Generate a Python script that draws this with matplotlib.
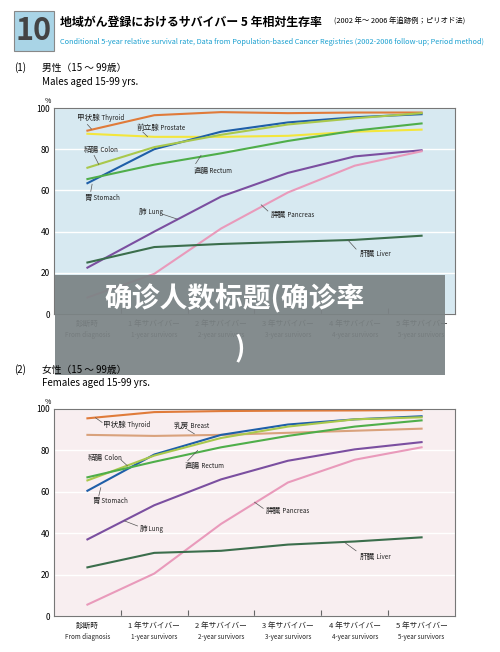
import matplotlib.pyplot as plt
from matplotlib.patches import Rectangle

plt.rcParams['font.family'] = ['Noto Sans CJK JP', 'DejaVu Sans']

cats_jp = ["診断時", "1 年サバイバー", "2 年サバイバー", "3 年サバイバー", "4 年サバイバー", "5 年サバイバー"]
cats_en = ["From diagnosis", "1-year survivors", "2-year survivors", "3-year survivors", "4-year survivors", "5-year survivors"]

male_thyroid = [89, 96.5, 98, 97.5, 97.8, 97.8]
male_prostate = [87.5, 86, 86, 86.5, 88.5, 89.5]
male_stomach = [63.5, 80, 88.5, 93, 95.5, 97]
male_colon = [71, 81, 87, 92, 95, 97.5]
male_rectum = [65.5, 72.5, 78, 84, 89, 92.5]
male_lung = [22.5, 40, 57, 68.5, 76.5, 79.5]
male_pancreas = [8, 19.5, 41.5, 59, 72, 79]
male_liver = [25, 32.5, 34, 35, 36, 38]

fem_thyroid = [95.5, 98.5, 99, 99.2, 99.3, 99.5]
fem_breast = [87.5, 87, 87.5, 88.5, 89.5, 90.5]
fem_stomach = [60.5, 78, 87.5, 92.5, 95, 96.5]
fem_colon = [65.5, 77.5, 86, 91.5, 95, 96]
fem_rectum = [67, 74.5, 81.5, 87, 91.5, 94.5]
fem_lung = [37, 53.5, 66, 75, 80.5, 84]
fem_pancreas = [5.5, 20.5, 44.5, 64.5, 75.5, 81.5]
fem_liver = [23.5, 30.5, 31.5, 34.5, 36, 38]

C = dict(thy='#e07b3a', pro='#f3e63c', sto='#1f5fa8', col='#a9c84c', rec='#4fae4a',
         lun='#7b4fa0', pan='#e99abb', liv='#3b6e4c', bre='#d9a27c')

# (jp, en, values, colour, text position, leader start, leader end)
male = [
    ("甲状腺", "Thyroid", male_thyroid, C['thy'], (-0.16, 95.3), (0.0, 92), (0.06, 89.8)),
    ("前立腺", "Prostate", male_prostate, C['pro'], (0.73, 90.5), (0.83, 88.3), (0.9, 86.1)),
    ("胃", "Stomach", male_stomach, C['sto'], (-0.05, 56.5), (0.05, 59.5), (0.07, 63)),
    ("結腸", "Colon", male_colon, C['col'], (-0.06, 79.5), (0.1, 77), (0.17, 72.6)),
    ("直腸", "Rectum", male_rectum, C['rec'], (1.58, 69.6), (1.62, 73), (1.7, 77)),
    ("肺", "Lung", male_lung, C['lun'], (0.77, 49.3), (1.12, 48.5), (1.35, 46)),
    ("膵臓", "Pancreas", male_pancreas, C['pan'], (2.74, 48), (2.7, 50), (2.6, 53)),
    ("肝臓", "Liver", male_liver, C['liv'], (4.07, 29), (4.02, 31.5), (3.9, 35.8)),
]
female = [
    ("甲状腺", "Thyroid", fem_thyroid, C['thy'], (0.24, 92.4), (0.22, 93.5), (0.12, 95.8)),
    ("乳房", "Breast", fem_breast, C['bre'], (1.29, 92), (1.5, 90), (1.6, 88)),
    ("胃", "Stomach", fem_stomach, C['sto'], (0.07, 55.6), (0.17, 58), (0.2, 62)),
    ("結腸", "Colon", fem_colon, C['col'], (0.0, 76.3), (0.5, 75.5), (0.6, 72.5)),
    ("直腸", "Rectum", fem_rectum, C['rec'], (1.45, 72.3), (1.5, 75), (1.65, 80)),
    ("肺", "Lung", fem_lung, C['lun'], (0.78, 42.2), (0.75, 43.5), (0.55, 46)),
    ("膵臓", "Pancreas", fem_pancreas, C['pan'], (2.67, 50.5), (2.63, 52), (2.5, 55)),
    ("肝臓", "Liver", fem_liver, C['liv'], (4.07, 28.7), (4.02, 31.5), (3.85, 35.5)),
]

W, H = 500, 652
fig = plt.figure(figsize=(5, 6.52), dpi=100)


def fx(p):
    return p / W


def fy(p):
    return 1 - p / H


def draw(rect, series, bg):
    ax = fig.add_axes(rect)
    ax.set_facecolor(bg)
    ax.set_xlim(-0.5, 5.5)
    ax.set_ylim(0, 100)
    ax.set_yticks([0, 20, 40, 60, 80, 100])
    ax.tick_params(axis='y', length=0, labelsize=6, pad=3)
    ax.grid(axis='y', color='white', lw=1)
    ax.set_axisbelow(True)
    ax.set_xticks([0.5, 1.5, 2.5, 3.5, 4.5])
    ax.set_xticklabels([])
    ax.tick_params(axis='x', direction='in', length=4, color='#666666')
    for s in ax.spines.values():
        s.set_color('#777777')
        s.set_linewidth(0.8)
    xs = range(len(cats_jp))
    for jp, en, vals, col, tpos, ls, le in series:
        ax.plot(xs, vals, color=col, lw=1.5)
        t = ax.text(tpos[0], tpos[1], jp, fontsize=5.5, va='center', color='#222222')
        ax.annotate(" " + en, xy=(1, 0.5), xycoords=t, va='center', fontsize=4.5, color='#222222')
        ax.plot([ls[0], le[0]], [ls[1], le[1]], color='#555555', lw=0.5)
    for i in xs:
        ax.text(i, -5, cats_jp[i], ha='center', va='center', fontsize=5.5, color='#222222')
        ax.text(i, -10, cats_en[i], ha='center', va='center', fontsize=4.5, color='#222222')
    ax.text(-0.55, 103.5, "%", fontsize=5, ha='right', va='center')
    return ax


draw([fx(54), fy(314), fx(401), (314 - 108) / H], male, '#d7e9f1')
draw([fx(54), fy(616), fx(401), (616 - 409) / H], female, '#f8eef0')

# header
fig.add_artist(Rectangle((fx(14), fy(51)), fx(40), 40 / H, transform=fig.transFigure,
                         facecolor='#a9d4e6', edgecolor='#888888', lw=0.8))
fig.text(fx(34), fy(31), "10", fontsize=22, fontweight='bold', color='#444444', ha='center', va='center')
fig.text(fx(60), fy(22), "地域がん登録におけるサバイバー 5 年相対生存率", fontsize=8.6, fontweight='bold', va='center')
fig.text(fx(334), fy(22), "(2002 年～ 2006 年追跡例；ピリオド法)", fontsize=5.3, va='center')
fig.text(fx(60), fy(42), "Conditional 5-year relative survival rate, Data from Population-based Cancer Registries (2002-2006 follow-up; Period method)",
         fontsize=5.3, color='#1ba0d0', va='center')
fig.text(fx(14), fy(68), "(1)", fontsize=7, va='center')
fig.text(fx(42), fy(68), "男性（15 ～ 99歳）", fontsize=7, va='center')
fig.text(fx(42), fy(82), "Males aged 15-99 yrs.", fontsize=7, va='center')
fig.text(fx(14), fy(370), "(2)", fontsize=7, va='center')
fig.text(fx(42), fy(370), "女性（15 ～ 99歳）", fontsize=7, va='center')
fig.text(fx(42), fy(383), "Females aged 15-99 yrs.", fontsize=7, va='center')

# overlay banner
fig.add_artist(Rectangle((fx(55), fy(375)), fx(390), 100 / H, transform=fig.transFigure,
                         facecolor='#7b8385', alpha=0.93, edgecolor='none'))
fig.text(fx(235), fy(298), "确诊人数标题(确诊率", fontsize=20, fontweight='bold', color='white',
         ha='center', va='center', family=['Noto Sans CJK SC', 'DejaVu Sans'])
fig.text(fx(240), fy(348), ")", fontsize=20, fontweight='bold', color='white',
         ha='center', va='center', family=['Noto Sans CJK SC', 'DejaVu Sans'])

fig.savefig("out.png", dpi=100)
